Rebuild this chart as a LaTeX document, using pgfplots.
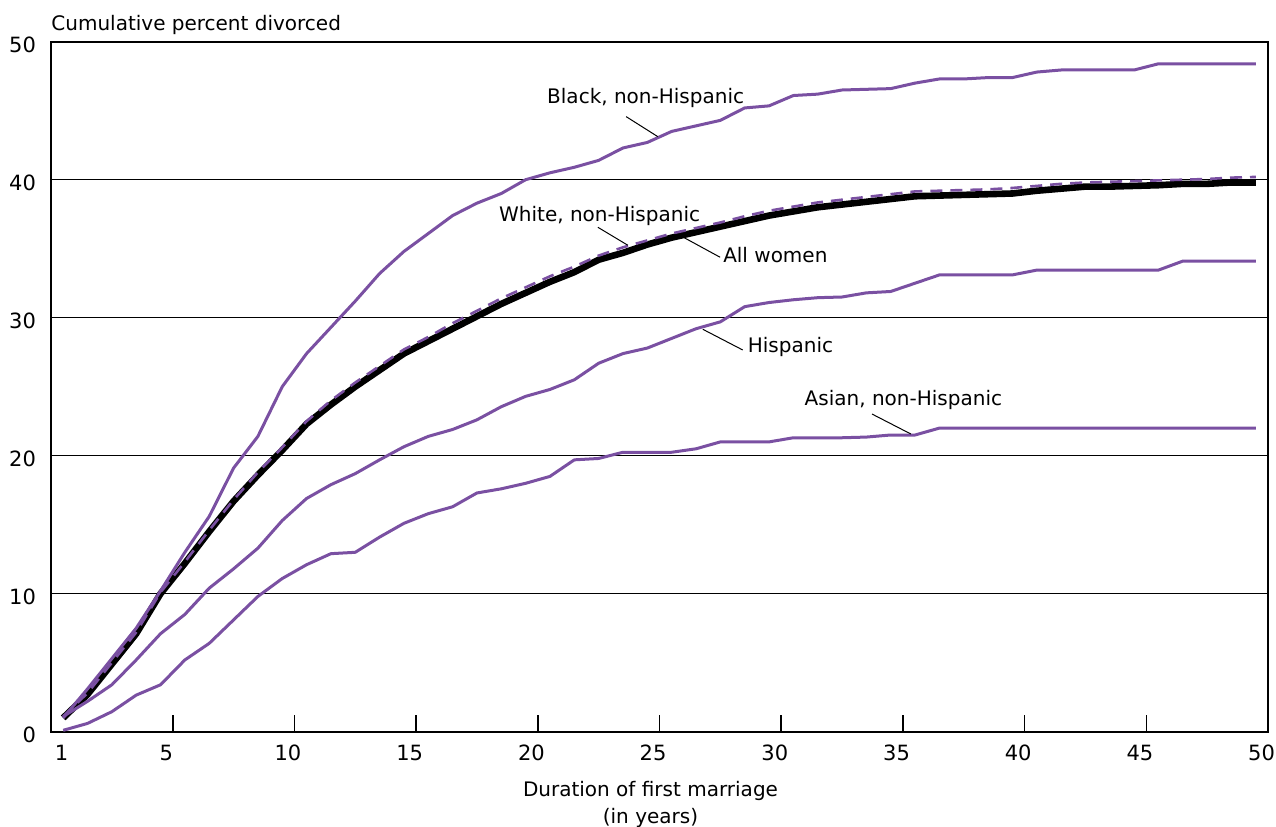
\documentclass[border=0pt]{standalone}
\usepackage{pgfplots}
\usepackage{pgfplotstable}
\usepackage{fontspec}
\pgfplotsset{compat=1.18}
\setmainfont{DejaVu Sans}

\definecolor{violet}{RGB}{122,80,162}

% x = duration year - 0.5 (values plotted at the middle of each year)
\pgfplotstableread{
x     all    white  black  hisp   asian
0.5   1.0    1.1    1.0    1.1    0.1
1.5   2.7    2.8    3.1    2.2    0.6
2.5   4.9    5.0    5.3    3.4    1.45
3.5   7.1    7.2    7.5    5.2    2.65
4.5   10.0   10.1   10.2   7.1    3.4
5.5   12.2   12.3   13.0   8.5    5.2
6.5   14.5   14.6   15.6   10.4   6.4
7.5   16.7   16.8   19.1   11.8   8.1
8.5   18.6   18.8   21.4   13.3   9.8
9.5   20.4   20.6   25.0   15.3   11.1
10.5  22.3   22.5   27.4   16.9   12.1
11.5  23.7   24.0   29.3   17.9   12.9
12.5  25.0   25.3   31.2   18.7   13.0
13.5  26.2   26.5   33.2   19.7   14.1
14.5  27.4   27.7   34.8   20.65  15.1
15.5  28.3   28.6   36.1   21.4   15.8
16.5  29.2   29.6   37.4   21.9   16.3
17.5  30.1   30.5   38.3   22.6   17.3
18.5  31.0   31.4   39.0   23.55  17.6
19.5  31.8   32.2   40.0   24.3   18.0
20.5  32.6   33.0   40.5   24.8   18.5
21.5  33.3   33.7   40.9   25.5   19.7
22.5  34.2   34.5   41.4   26.7   19.8
23.5  34.7   35.1   42.3   27.4   20.25
24.5  35.3   35.6   42.7   27.8   20.25
25.5  35.8   36.1   43.5   28.5   20.25
26.5  36.2   36.5   43.9   29.2   20.5
27.5  36.6   36.9   44.3   29.7   21.0
28.5  37.0   37.35  45.2   30.8   21.0
29.5  37.4   37.75  45.35  31.1   21.0
30.5  37.7   38.05  46.1   31.3   21.3
31.5  38.0   38.35  46.2   31.45  21.3
32.5  38.2   38.55  46.5   31.5   21.3
33.5  38.4   38.75  46.55  31.8   21.35
34.5  38.6   38.95  46.6   31.9   21.5
35.5  38.8   39.15  47.0   32.5   21.5
36.5  38.85  39.2   47.3   33.1   22.0
37.5  38.9   39.25  47.3   33.1   22.0
38.5  38.95  39.3   47.4   33.1   22.0
39.5  39.0   39.4   47.4   33.1   22.0
40.5  39.2   39.55  47.8   33.45  22.0
41.5  39.35  39.7   47.95  33.45  22.0
42.5  39.5   39.8   47.95  33.45  22.0
43.5  39.5   39.85  47.95  33.45  22.0
44.5  39.55  39.9   47.95  33.45  22.0
45.5  39.6   39.95  48.4   33.45  22.0
46.5  39.7   40.0   48.4   34.1   22.0
47.5  39.7   40.05  48.4   34.1   22.0
48.5  39.8   40.15  48.4   34.1   22.0
49.5  39.8   40.2   48.4   34.1   22.0
}\divorce

\begin{document}
\begin{tikzpicture}
\begin{axis}[
  width=608.5bp, height=345bp, scale only axis,
  xmin=0, xmax=50, ymin=0, ymax=50,
  clip=false,
  axis line style={line width=1bp},
  xtick={0,5,...,50},
  xticklabels={{},5,10,15,20,25,30,35,40,45,50},
  extra x ticks={0.7},
  extra x tick labels={1},
  extra x tick style={major tick length=0pt},
  xtick pos=bottom,
  tick align=inside,
  major tick length=8.5bp,
  tick style={black, line width=0.8bp},
  ytick={0,10,...,50},
  ytick style={draw=none},
  ymajorgrids,
  grid style={black, line width=0.75bp},
  /pgf/number format/assume math mode=true,
  tick label style={font=\fontsize{10.5bp}{12bp}\selectfont},
  xticklabel style={yshift=-3bp, xshift=-3.2bp},
  yticklabel style={anchor=east, xshift=-4bp, yshift=-1.5bp},
  every axis plot/.append style={line join=round},
]
\addplot[black, line width=3.3bp] table[x=x, y=all] {\divorce};
\addplot[violet, line width=1.3bp, dash pattern=on 6bp off 4bp] table[x=x, y=white] {\divorce};
\addplot[violet, line width=1.5bp] table[x=x, y=black] {\divorce};
\addplot[violet, line width=1.5bp] table[x=x, y=hisp] {\divorce};
\addplot[violet, line width=1.5bp] table[x=x, y=asian] {\divorce};

\draw[black, line width=0.5bp] (axis cs:23.63,44.57) -- (axis cs:24.93,43.12);
\draw[black, line width=0.5bp] (axis cs:22.47,36.55) -- (axis cs:23.70,35.25);
\draw[black, line width=0.5bp] (axis cs:25.98,35.83) -- (axis cs:27.49,34.38);
\draw[black, line width=0.5bp] (axis cs:26.78,29.16) -- (axis cs:28.42,27.66);
\draw[black, line width=0.5bp] (axis cs:33.73,23.02) -- (axis cs:35.33,21.57);

\begin{scope}[every node/.style={font=\fontsize{10bp}{12bp}\selectfont, inner sep=0pt}]
\node at (axis cs:24.43,45.9) {Black, non-Hispanic};
\node at (axis cs:22.54,37.34) {White, non-Hispanic};
\node at (axis cs:29.76,34.54) {All women};
\node at (axis cs:30.38,27.88) {Hispanic};
\node at (axis cs:35.02,24.04) {Asian, non-Hispanic};
\node[anchor=base west] at ([yshift=5.85bp]rel axis cs:0,1) {Cumulative percent divorced};
\node[anchor=base] at ([yshift=-32.5bp]axis cs:24.63,0) {Duration of first marriage};
\node[anchor=base] at ([yshift=-46bp]axis cs:24.63,0) {(in years)};
\end{scope}
\end{axis}
\pgfresetboundingbox
\path[use as bounding box] (-25.5bp,-47.65bp) rectangle (612.5bp,365.85bp);
\end{tikzpicture}
\end{document}
